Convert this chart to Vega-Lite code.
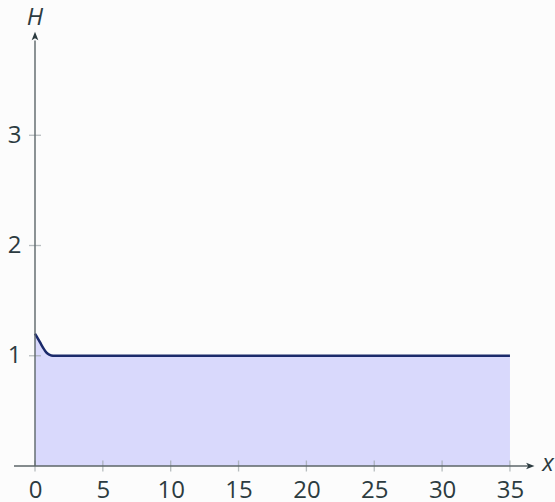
{
  "$schema": "https://vega.github.io/schema/vega-lite/v6.json",
  "width": 520,
  "height": 466,
  "padding": {"left": 35, "top": 0, "right": 0, "bottom": 36},
  "autosize": {"type": "none"},
  "background": "#fcfcfc",
  "config": {"view": {"stroke": null}, "font": "Open Sans"},
  "datasets": {
    "curve": [
      {"x": 0, "H": 1.2},
      {"x": 0.15, "H": 1.17},
      {"x": 0.3, "H": 1.138},
      {"x": 0.45, "H": 1.104},
      {"x": 0.6, "H": 1.072},
      {"x": 0.75, "H": 1.044},
      {"x": 0.9, "H": 1.023},
      {"x": 1.05, "H": 1.01},
      {"x": 1.2, "H": 1.003},
      {"x": 1.45, "H": 1.0},
      {"x": 5, "H": 1.0},
      {"x": 15, "H": 1.0},
      {"x": 25, "H": 1.0},
      {"x": 35, "H": 1.0}
    ],
    "xticks": [{"v": 0}, {"v": 5}, {"v": 10}, {"v": 15}, {"v": 20}, {"v": 25}, {"v": 30}, {"v": 35}],
    "yticks": [{"v": 1}, {"v": 2}, {"v": 3}],
    "one": [{}]
  },
  "layer": [
    {
      "data": {"name": "curve"},
      "mark": {"type": "area", "color": "#d9d9fc", "interpolate": "monotone", "opacity": 1},
      "encoding": {
        "x": {"field": "x", "type": "quantitative",
          "scale": {"domain": [0, 38.32], "nice": false, "zero": false},
          "axis": {"values": [0, 5, 10, 15, 20, 25, 30, 35], "format": "d", "domain": false, "ticks": false, "tickSize": 0, "grid": false, "title": null, "labelFontSize": 24, "labelColor": "#2c3b40", "labelPadding": 12, "labelFont": "Open Sans", "labelFlush": false, "labelOverlap": false}},
        "y": {"field": "H", "type": "quantitative",
          "scale": {"domain": [0, 4.227], "nice": false, "zero": false},
          "axis": {"values": [1, 2, 3], "format": "d", "domain": false, "ticks": false, "tickSize": 0, "grid": false, "title": null, "labelFontSize": 24, "labelColor": "#2c3b40", "labelPadding": 14, "labelFont": "Open Sans", "labelFlush": false, "labelOverlap": false}}
      }
    },
    {
      "data": {"name": "curve"},
      "mark": {"type": "line", "color": "#1b2a6b", "strokeWidth": 2.5, "interpolate": "monotone"},
      "encoding": {
        "x": {"field": "x", "type": "quantitative"},
        "y": {"field": "H", "type": "quantitative"}
      }
    },
    {
      "data": {"name": "xticks"},
      "mark": {"type": "tick", "orient": "vertical", "color": "#9aa2a5", "size": 11, "thickness": 1.3, "clip": false},
      "encoding": {
        "x": {"field": "v", "type": "quantitative"},
        "y": {"datum": 0}
      }
    },
    {
      "data": {"name": "yticks"},
      "mark": {"type": "tick", "orient": "horizontal", "color": "#9aa2a5", "size": 12, "thickness": 1.3, "clip": false},
      "encoding": {
        "y": {"field": "v", "type": "quantitative"},
        "x": {"datum": 0}
      }
    },
    {
      "data": {"name": "one"},
      "mark": {"type": "rule", "color": "#5c6669", "strokeWidth": 1.4, "clip": false},
      "encoding": {
        "x": {"datum": -1.55},
        "x2": {"datum": 36.45},
        "y": {"datum": 0}
      }
    },
    {
      "data": {"name": "one"},
      "mark": {"type": "rule", "color": "#5c6669", "strokeWidth": 1.4, "clip": false},
      "encoding": {
        "x": {"datum": 0},
        "y": {"datum": 0},
        "y2": {"datum": 3.86}
      }
    },
    {
      "data": {"name": "one"},
      "mark": {"type": "point", "shape": "M-1,-0.8 L1,0 L-1,0.8 L-0.5,0 Z", "filled": true, "color": "#2c3b40", "opacity": 1, "size": 70, "clip": false},
      "encoding": {
        "x": {"datum": 36.5},
        "y": {"datum": 0}
      }
    },
    {
      "data": {"name": "one"},
      "mark": {"type": "point", "shape": "M-0.8,1 L0,-1 L0.8,1 L0,0.5 Z", "filled": true, "color": "#2c3b40", "opacity": 1, "size": 70, "clip": false},
      "encoding": {
        "x": {"datum": 0},
        "y": {"datum": 3.9}
      }
    },
    {
      "data": {"name": "one"},
      "mark": {"type": "text", "text": "H", "font": "Open Sans", "fontSize": 24, "fontStyle": "italic", "color": "#2c3b40", "align": "center", "baseline": "middle", "clip": false},
      "encoding": {
        "x": {"datum": 0},
        "y": {"datum": 4.06}
      }
    },
    {
      "data": {"name": "one"},
      "mark": {"type": "text", "text": "x", "font": "Open Sans", "fontSize": 24, "fontStyle": "italic", "color": "#2c3b40", "align": "center", "baseline": "middle", "clip": false},
      "encoding": {
        "x": {"datum": 37.8},
        "y": {"datum": 0.02}
      }
    }
  ]
}
